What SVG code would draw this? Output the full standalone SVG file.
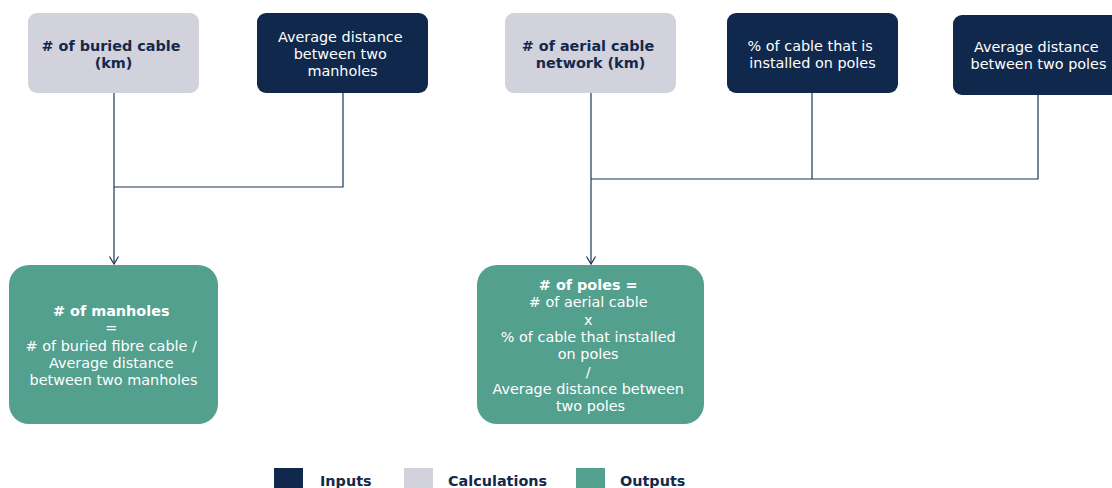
<svg xmlns="http://www.w3.org/2000/svg" width="1112" height="488" viewBox="0 0 1112 488">
  <style>
    text { font-family: "DejaVu Sans", Verdana, sans-serif; font-size: 14.4px; text-anchor: middle; }
    .input { fill: #0f284b; }
    .calc { fill: #d2d2dc; }
    .output { fill: #54a08e; }
    .light { fill: #ffffff; }
    .dark { fill: #14284b; }
    .b { font-weight: bold; }
    .wire { fill: none; stroke: #1c3557; stroke-width: 1.2; }
    .legend { font-weight: bold; text-anchor: start; fill: #14284b; font-size: 14.4px; }
  </style>
  <defs>
    <marker id="arrow" markerWidth="12" markerHeight="12" refX="10" refY="6" orient="auto" markerUnits="userSpaceOnUse">
      <path d="M2.5 1.5 L10 6 L2.5 10.5" fill="none" stroke="#1c3557" stroke-width="1.2"/>
    </marker>
  </defs>

  <!-- connectors -->
  <g id="connectors">
    <path class="wire" d="M343 93 V187 H114"/>
    <path class="wire" d="M114 93 V264" marker-end="url(#arrow)"/>
    <path class="wire" d="M812 93 V179"/>
    <path class="wire" d="M1038 95 V179 H591"/>
    <path class="wire" d="M591 93 V264" marker-end="url(#arrow)"/>
  </g>

  <g id="buried-cable">
    <rect class="calc" x="28" y="13" width="171" height="80" rx="9"/>
    <text class="dark b" x="113.5" y="51">
      <tspan x="113.5"># of buried cable</tspan>
      <tspan x="113.5" dy="17">(km)</tspan>
    </text>
  </g>

  <g id="manhole-distance">
    <rect class="input" x="257" y="13" width="171" height="80" rx="9"/>
    <text class="light" x="342.5" y="42">
      <tspan x="342.5">Average distance</tspan>
      <tspan x="342.5" dy="17">between two</tspan>
      <tspan x="342.5" dy="17">manholes</tspan>
    </text>
  </g>

  <g id="aerial-cable">
    <rect class="calc" x="505" y="13" width="171" height="80" rx="9"/>
    <text class="dark b" x="590.5" y="51">
      <tspan x="590.5"># of aerial cable</tspan>
      <tspan x="590.5" dy="17">network (km)</tspan>
    </text>
  </g>

  <g id="pole-share">
    <rect class="input" x="727" y="13" width="171" height="80" rx="9"/>
    <text class="light" x="812.5" y="51">
      <tspan x="812.5">% of cable that is</tspan>
      <tspan x="812.5" dy="17">installed on poles</tspan>
    </text>
  </g>

  <g id="pole-distance">
    <rect class="input" x="953" y="15" width="171" height="80" rx="9"/>
    <text class="light" x="1038.5" y="52">
      <tspan x="1038.5">Average distance</tspan>
      <tspan x="1038.5" dy="17">between two poles</tspan>
    </text>
  </g>

  <g id="manholes">
    <rect class="output" x="9" y="265" width="209" height="159" rx="20"/>
    <text class="light" x="113.5" y="316">
      <tspan x="113.5" class="b"># of manholes</tspan>
      <tspan x="113.5" dy="17.3">=</tspan>
      <tspan x="113.5" dy="17.3"># of buried fibre cable /</tspan>
      <tspan x="113.5" dy="17.3">Average distance</tspan>
      <tspan x="113.5" dy="17.3">between two manholes</tspan>
    </text>
  </g>

  <g id="poles">
    <rect class="output" x="477" y="265" width="227" height="159" rx="20"/>
    <text class="light" x="590.5" y="290">
      <tspan x="590.5" class="b"># of poles =</tspan>
      <tspan x="590.5" dy="17.3"># of aerial cable</tspan>
      <tspan x="590.5" dy="17.3">x</tspan>
      <tspan x="590.5" dy="17.3">% of cable that installed</tspan>
      <tspan x="590.5" dy="17.3">on poles</tspan>
      <tspan x="590.5" dy="17.3">/</tspan>
      <tspan x="590.5" dy="17.3">Average distance between</tspan>
      <tspan x="590.5" dy="17.3">two poles</tspan>
    </text>
  </g>

  <g id="legend">
    <rect class="input" x="274" y="468" width="29" height="20"/>
    <text class="legend" x="320" y="486">Inputs</text>
    <rect class="calc" x="404" y="468" width="29" height="20"/>
    <text class="legend" x="448" y="486">Calculations</text>
    <rect class="output" x="576" y="468" width="29" height="20"/>
    <text class="legend" x="620" y="486">Outputs</text>
  </g>
</svg>
